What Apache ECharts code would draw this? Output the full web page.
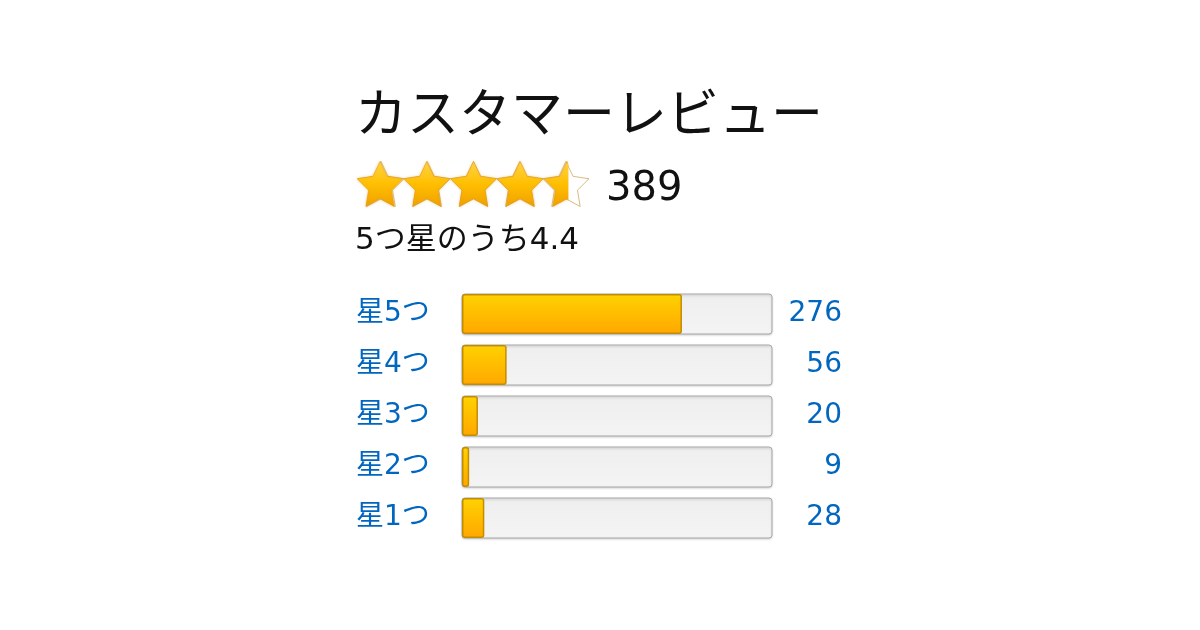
<!DOCTYPE html>
<html>
<head>
<meta charset="utf-8">
<script src="https://cdn.jsdelivr.net/npm/echarts@6/dist/echarts.min.js"></script>
<style>
html,body{margin:0;padding:0;background:#fff;}
#main{width:1200px;height:630px;}
</style>
</head>
<body>
<div id="main"></div>
<script>
// ---- data ----
const titleText = 'カスタマーレビュー';
const ratingCount = 389;
const rating = 4.4;
const starsShown = 4.5;           // star image as drawn (half-star display)
const maxStars = 5;
const categories = ['星5つ', '星4つ', '星3つ', '星2つ', '星1つ'];
const counts = [276, 56, 20, 9, 28];

const total = counts.reduce((a, b) => a + b, 0);
const FONT = '"DejaVu Sans", "Noto Sans CJK JP", sans-serif';
const FONT_JP = '"Noto Sans CJK JP", sans-serif';
const starPath = 'path://M50,0 L64.7,29.8 L97.6,34.6 L73.8,57.7 L79.4,90.5 L50,75 L20.6,90.5 L26.2,57.7 L2.4,34.6 L35.3,29.8 Z';

const chart = echarts.init(document.getElementById('main'), null, {renderer: 'canvas'});

const barGradient = new echarts.graphic.LinearGradient(0, 0, 0, 1, [
  {offset: 0, color: '#ffd11a'},
  {offset: 0.1, color: '#ffce00'},
  {offset: 1, color: '#ffa700'}
]);
const trackGradient = new echarts.graphic.LinearGradient(0, 0, 0, 1, [
  {offset: 0, color: '#e6e6e6'},
  {offset: 0.12, color: '#efefef'},
  {offset: 1, color: '#f4f4f4'}
]);
const starGradient = new echarts.graphic.LinearGradient(0, 0, 0, 1, [
  {offset: 0, color: '#ffd54a'},
  {offset: 0.5, color: '#ffbf00'},
  {offset: 1, color: '#f0a000'}
]);

chart.setOption({
  backgroundColor: '#ffffff',
  animation: false,
  graphic: [
    {type: 'text', left: 355, top: 86, style: {text: titleText, font: '400 52px ' + FONT_JP, fill: '#111111'}},
    {type: 'text', left: 606, top: 170, style: {text: String(ratingCount), font: '400 40px ' + FONT, fill: '#111111'}},
    {type: 'text', left: 355, top: 225, style: {text: '5つ星のうち' + rating, font: '400 31px ' + FONT, fill: '#111111'}}
  ],
  grid: [
    {left: 462, width: 310, top: 288.5, height: 255, containLabel: false},
    {left: 355, width: 237, top: 161, height: 46, containLabel: false}
  ],
  xAxis: [
    {type: 'value', gridIndex: 0, min: 0, max: total, show: false},
    {type: 'value', gridIndex: 1, min: 0, max: maxStars, show: false}
  ],
  yAxis: [
    {
      type: 'category', gridIndex: 0, data: categories, inverse: true,
      axisLine: {show: false}, axisTick: {show: false}, splitLine: {show: false},
      axisLabel: {align: 'left', margin: 106, color: '#0066c0', fontSize: 28, fontFamily: FONT}
    },
    {
      type: 'category', gridIndex: 0, position: 'right', data: categories, inverse: true,
      axisLine: {show: false}, axisTick: {show: false}, splitLine: {show: false},
      axisLabel: {
        align: 'right', margin: 70, color: '#0066c0', fontSize: 28, fontFamily: FONT,
        formatter: (v, i) => String(counts[i])
      }
    },
    {type: 'category', gridIndex: 1, data: ['stars'], show: false}
  ],
  series: [
    {
      type: 'bar', xAxisIndex: 0, yAxisIndex: 0, data: counts, barWidth: 40,
      showBackground: true,
      backgroundStyle: {
        color: trackGradient, borderColor: '#a9a9a9', borderWidth: 1, borderRadius: 3,
        shadowColor: 'rgba(0,0,0,0.15)', shadowBlur: 2, shadowOffsetY: 1
      },
      itemStyle: {color: barGradient, borderColor: '#c38d00', borderWidth: 1.5, borderRadius: 2},
      silent: true
    },
    {
      type: 'pictorialBar', xAxisIndex: 1, yAxisIndex: 2, data: [maxStars],
      symbol: starPath, symbolRepeat: maxStars, symbolBoundingData: maxStars,
      symbolSize: [46, 45], barGap: '-100%', z: 2,
      itemStyle: {color: '#ffffff', borderColor: '#c99a48', borderWidth: 6, opacity: 1}
    },
    {
      type: 'pictorialBar', xAxisIndex: 1, yAxisIndex: 2, data: [starsShown],
      symbol: starPath, symbolRepeat: maxStars, symbolBoundingData: maxStars, symbolClip: true,
      symbolSize: [46, 45], barGap: '-100%', z: 3,
      itemStyle: {color: starGradient, borderColor: '#dc920e', borderWidth: 4,
                  shadowColor: 'rgba(230,160,40,0.5)', shadowBlur: 3}
    }
  ]
});
</script>
</body>
</html>
